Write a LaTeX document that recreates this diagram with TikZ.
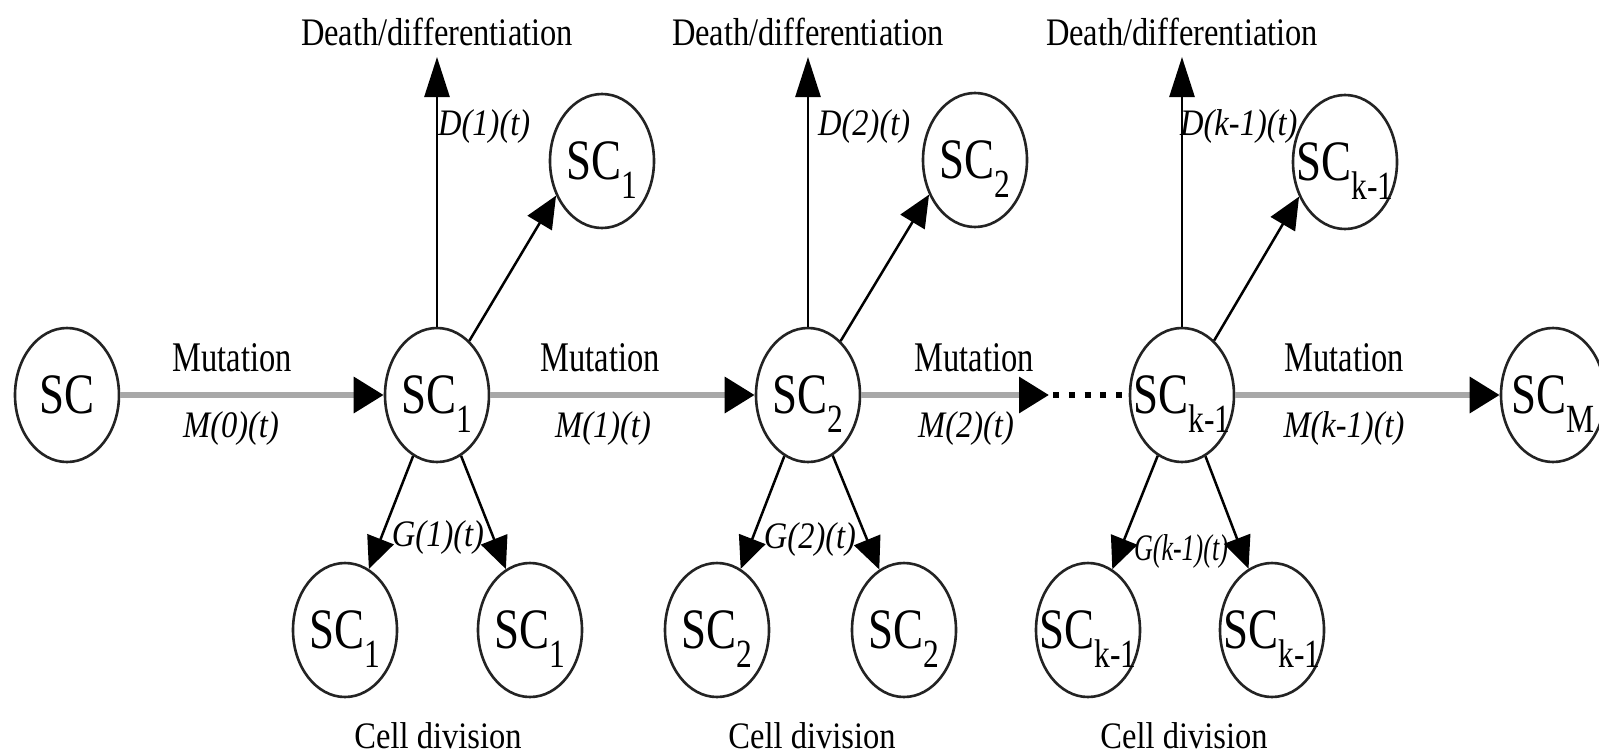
\documentclass[tikz,border=0pt]{standalone}
\usepackage{fontspec}
\setmainfont{Liberation Serif}
\usepackage{graphicx}
\usetikzlibrary{shapes.geometric,arrows.meta}
\definecolor{mutgray}{RGB}{168,168,168}
\definecolor{ringc}{RGB}{35,35,35}
\newcommand\vstretch[2]{\scalebox{1}[#1]{#2}}
\newcommand\sclab[1]{\vstretch{1.27}{SC\raisebox{-15pt}[0pt][0pt]{\fontsize{31.5pt}{31.5pt}\selectfont #1}}}
\tikzset{
  cell/.style={ellipse, draw=ringc, line width=2.6pt, minimum width=104pt, minimum height=134pt, inner sep=0pt},
  celltext/.style={font=\fontsize{45pt}{50pt}\selectfont, inner sep=0pt},
  mut/.style={draw=mutgray, line width=6.5pt, -{Triangle[length=30pt,width=35pt,color=black]}},
  dotline/.style={draw=black, line width=6pt, dash pattern=on 6pt off 9.75pt},
  deathar/.style={draw=black, line width=2.7pt, -{Triangle[length=40pt,width=25pt]}},
  divar/.style={draw=black, line width=2.5pt, -{Triangle[length=32pt,width=28pt]}},
  lab/.style={font=\fontsize{32.5pt}{36pt}\selectfont, inner sep=0pt},
  ilab/.style={font=\fontsize{32.5pt}{36pt}\selectfont\itshape, inner sep=0pt}
}
\begin{document}
\begin{tikzpicture}[x=1pt, y=-1pt]
\useasboundingbox (0,0) rectangle (1599,755);
\clip (0,0) rectangle (1599,755);
\fill[white] (0,0) rectangle (1599,755);

% main row
\node[cell, label={[celltext]center:\vstretch{1.27}{SC}}] (sc) at (67,395) {};
\node[cell, label={[celltext]center:\sclab{1}}] (sc1) at (437,395) {};
\node[cell, label={[celltext]center:\sclab{2}}] (sc2) at (808,395) {};
\node[cell, label={[celltext]center:\sclab{k-1}}] (sck) at (1182,395) {};
\node[cell, label={[celltext]center:\sclab{M}}] (scm) at (1553,395) {};

% upper side nodes
\node[cell, label={[celltext]center:\sclab{1}}] (up1) at (602,161) {};
\node[cell, label={[celltext]center:\sclab{2}}] (up2) at (975,160) {};
\node[cell, label={[celltext]center:\sclab{k-1}}] (upk) at (1345,162) {};

% bottom nodes
\node[cell, label={[celltext]center:\sclab{1}}] (b1l) at (345,630) {};
\node[cell, label={[celltext]center:\sclab{1}}] (b1r) at (530,630) {};
\node[cell, label={[celltext]center:\sclab{2}}] (b2l) at (717,630) {};
\node[cell, label={[celltext]center:\sclab{2}}] (b2r) at (904,630) {};
\node[cell, label={[celltext]center:\sclab{k-1}}] (bkl) at (1088,630) {};
\node[cell, label={[celltext]center:\sclab{k-1}}] (bkr) at (1272,630) {};

% coordinates
\coordinate (dd1) at (437,57);
\coordinate (dd2) at (808,57);
\coordinate (ddk) at (1182,57);
\coordinate (tip3) at (1049,395);
\coordinate (dot0) at (1053,395);

% mutation arrows
\draw[mut] (sc) -- (sc1);
\draw[mut] (sc1) -- (sc2);
\draw[mut] (sc2) -- (tip3);
\draw[dotline] (dot0) -- (sck);
\draw[mut] (sck) -- (scm);

% death arrows
\draw[deathar] (sc1) -- (dd1);
\draw[deathar] (sc2) -- (dd2);
\draw[deathar] (sck) -- (ddk);

% self-renewal arrows
\draw[divar] (sc1) -- (up1.217);
\draw[divar] (sc2) -- (up2.217);
\draw[divar] (sck) -- (upk.217);

% division arrows
\draw[divar] (sc1) -- (b1l);
\draw[divar] (sc1) -- (b1r);
\draw[divar] (sc2) -- (b2l);
\draw[divar] (sc2) -- (b2r);
\draw[divar] (sck) -- (bkl);
\draw[divar] (sck) -- (bkr);

% labels
\node[lab] (mt0) at (232,358) {\vstretch{1.3}{Mutation}};
\node[lab] (mt1) at (600,358) {\vstretch{1.3}{Mutation}};
\node[lab] (mt2) at (974,358) {\vstretch{1.3}{Mutation}};
\node[lab] (mtk) at (1344,358) {\vstretch{1.3}{Mutation}};
\node[ilab] (m0) at (231,429) {\vstretch{1.15}{M(0)(t)}};
\node[ilab] (m1) at (603,429) {\vstretch{1.15}{M(1)(t)}};
\node[ilab] (m2) at (966,429) {\vstretch{1.15}{M(2)(t)}};
\node[ilab] (mk) at (1344,429) {\vstretch{1.15}{M(k-1)(t)}};

\node[lab] (de1) at (437,32) {\vstretch{1.2}{Death/differentiation}};
\node[lab] (de2) at (808,32) {\vstretch{1.2}{Death/differentiation}};
\node[lab] (dek) at (1182,32) {\vstretch{1.2}{Death/differentiation}};
\node[ilab, anchor=west] (d1) at (438,127) {\vstretch{1.15}{D(1)(t)}};
\node[ilab, anchor=west] (d2) at (818,127) {\vstretch{1.15}{D(2)(t)}};
\node[ilab, anchor=west] (dk) at (1180,127) {\vstretch{1.15}{D(k-1)(t)}};

\node[ilab] (g1) at (438,538) {\vstretch{1.15}{G(1)(t)}};
\node[ilab] (g2) at (810,540) {\vstretch{1.15}{G(2)(t)}};
\node[ilab] (gk) at (1181,552) {\scalebox{0.8}[1.15]{G(k-1)(t)}};

\node[lab] (cd1) at (438,736) {\vstretch{1.15}{Cell division}};
\node[lab] (cd2) at (812,736) {\vstretch{1.15}{Cell division}};
\node[lab] (cdk) at (1184,736) {\vstretch{1.15}{Cell division}};
\end{tikzpicture}
\end{document}
